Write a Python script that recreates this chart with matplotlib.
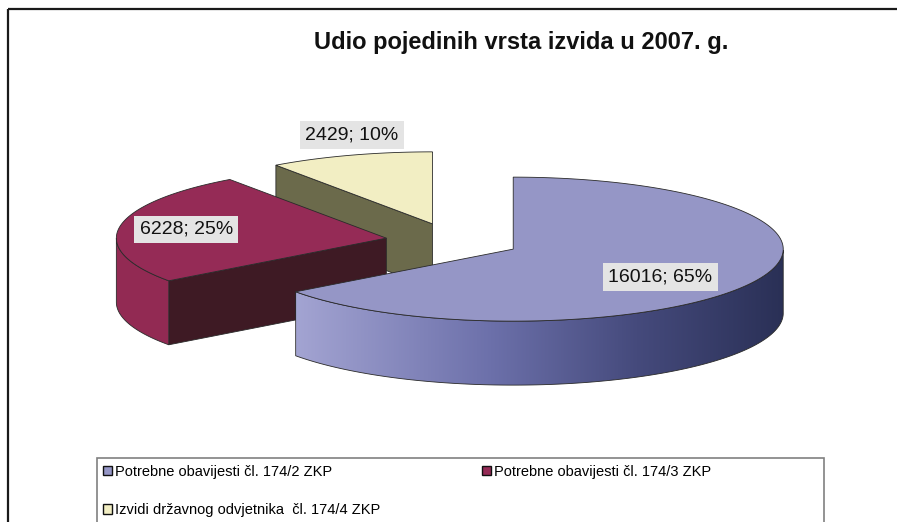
import numpy as np
import matplotlib.pyplot as plt
from matplotlib.patches import Polygon, Rectangle, Patch
from matplotlib.colors import LinearSegmentedColormap

plt.rcParams['font.family'] = ['Liberation Sans', 'DejaVu Sans']

# Data
title = 'Udio pojedinih vrsta izvida u 2007. g.'
categories = ['Potrebne obavijesti čl. 174/2 ZKP',
              'Potrebne obavijesti čl. 174/3 ZKP',
              'Izvidi državnog odvjetnika  čl. 174/4 ZKP']
values = [16016, 6228, 2429]

# Styles
top_colors = ['#9596c6', '#952b56', '#f2eec3']
cut_colors = ['#3a3f6a', '#3e1a24', '#6b6a4b']
side_colors = [None, '#922a53', '#c8c49a']
blue_side = LinearSegmentedColormap.from_list(
    'side', [(0, '#a3a4d2'), (0.4, '#6c70aa'), (0.7, '#454a7c'), (1, '#2a3056')])
edge = '#2a2a2a'

# Layout (pixels)
cx, cy = 453, 241
rx, ry = 270, 72
depth = 64
explode = 0.25
label_frac = [(0.61, 0.85), (0.75, 0.76), (0.98, 1.29)]

fig = plt.figure(figsize=(8.97, 5.22), dpi=100)
ax = fig.add_axes([0, 0, 1, 1])
ax.set_axis_off()

total = float(sum(values))
angles = []
a0 = 90.0
for v in values:
    a1 = a0 - v / total * 360.0
    angles.append((a1, a0))
    a0 = a1


def pt(ox, oy, a, dz=0):
    r = np.radians(a)
    return ox + rx * np.cos(r), oy - ry * np.sin(r) + dz


# back slices first
order = sorted(range(len(values)),
               key=lambda i: -np.sin(np.radians(sum(angles[i]) / 2)))

z = 2
for i in order:
    a1, a0 = angles[i]
    mid = np.radians((a0 + a1) / 2)
    ox = cx + explode * rx * np.cos(mid)
    oy = cy - explode * ry * np.sin(mid)

    # radial cut faces
    for a, sgn in ((a0, -1), (a1, 1)):
        if sgn * np.cos(np.radians(a)) > 1e-6:
            px, py = pt(ox, oy, a)
            face = [(ox, oy), (px, py), (px, py + depth), (ox, oy + depth)]
            ax.add_patch(Polygon(face, closed=True, fc=cut_colors[i], ec=edge,
                                 lw=0.6, zorder=z))

    # outer side
    t = np.linspace(a1, a0, 300)
    t = t[np.sin(np.radians(t)) < 0]
    if len(t) > 1:
        xs = ox + rx * np.cos(np.radians(t))
        ys = oy - ry * np.sin(np.radians(t))
        side = list(zip(xs, ys)) + list(zip(xs[::-1], ys[::-1] + depth))
        if side_colors[i] is None:
            poly = Polygon(side, closed=True, fc='none', ec=edge, lw=0.6, zorder=z + 0.5)
            ax.add_patch(poly)
            grad = np.linspace(0, 1, 256).reshape(1, -1)
            im = ax.imshow(grad, cmap=blue_side, aspect='auto',
                           extent=(xs.min(), xs.max(), ys.max() + depth, ys.min()),
                           zorder=z + 0.4)
            im.set_clip_path(poly)
        else:
            ax.add_patch(Polygon(side, closed=True, fc=side_colors[i], ec=edge,
                                 lw=0.6, zorder=z + 0.5))

    # top face
    t = np.linspace(a1, a0, 300)
    top = [(ox, oy)] + [pt(ox, oy, a) for a in t]
    ax.add_patch(Polygon(top, closed=True, fc=top_colors[i], ec=edge, lw=0.6, zorder=z + 1))

    # data label
    fx, fy = label_frac[i]
    lx = ox + fx * rx * np.cos(mid)
    ly = oy - fy * ry * np.sin(mid)
    ax.text(lx, ly, '%d; %d%%' % (values[i], round(values[i] / total * 100)),
            ha='center', va='center', fontsize=14, color='#111111', zorder=20,
            bbox=dict(boxstyle='square,pad=0.28', fc='#e4e4e4', ec='none'))
    z += 3

# title
ax.text(521, 43, title, ha='center', va='center', fontsize=17,
        fontweight='bold', color='#111111')

# outer border (top and left)
ax.plot([8, 897], [9, 9], color='#1a1a1a', lw=1.6, solid_capstyle='butt')
ax.plot([8, 8], [9, 522], color='#1a1a1a', lw=1.6, solid_capstyle='butt')

# legend frame
ax.add_patch(Rectangle((97, 458), 727, 80, fc='white', ec='#808080', lw=1.2, zorder=1))

# row-wise order for a 2-column legend
leg_order = [0, 2, 1]
handles = [Patch(fc=top_colors[k], ec='#111111', lw=1.0) for k in leg_order]
ax.legend(handles, [categories[k] for k in leg_order], ncol=2, loc='upper left',
          bbox_to_anchor=(103 / 897, 1 - 465 / 522), frameon=False,
          fontsize=10.5, handlelength=0.6, handleheight=0.6, handletextpad=0.2,
          borderpad=0, borderaxespad=0, columnspacing=7.0, labelspacing=1.65)

ax.set_xlim(0, 897)
ax.set_ylim(522, 0)

fig.savefig('out.png', dpi=100)
